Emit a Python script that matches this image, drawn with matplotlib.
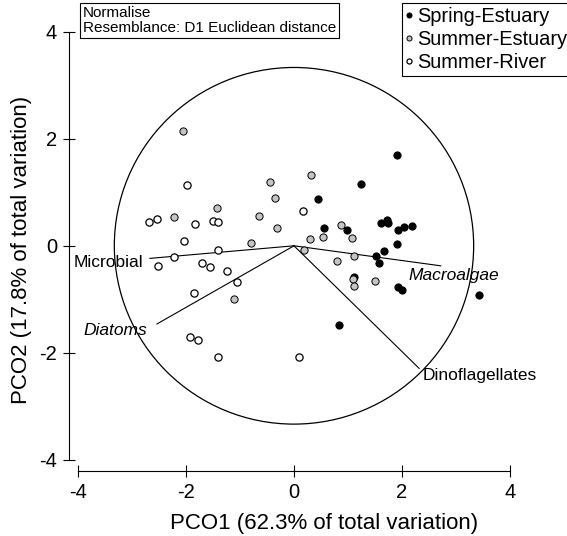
import numpy as np
import matplotlib
matplotlib.use('Agg')
import matplotlib.pyplot as plt
from matplotlib.patches import Circle

plt.rcParams['font.family'] = 'Liberation Sans'
plt.rcParams['axes.unicode_minus'] = False

# PCO scores
spring_est_x = [0.45, 0.56, 0.99, 1.25, 1.91, 1.62, 1.72, 1.74, 1.93, 2.04,
                2.19, 1.91, 1.67, 1.52, 1.57, 1.12, 1.93, 2.01, 3.43, 0.84]
spring_est_y = [0.87, 0.34, 0.30, 1.16, 1.70, 0.42, 0.48, 0.42, 0.29, 0.36,
                0.37, 0.03, -0.10, -0.19, -0.32, -0.58, -0.77, -0.83, -0.91, -1.48]

summer_est_x = [-2.06, -0.44, -0.36, -1.43, -2.23, -0.64, -0.31, -0.80, -1.11, 0.31,
                0.88, 0.53, 0.29, 1.07, 0.19, 1.11, 0.79, 1.10, 1.12, 1.51]
summer_est_y = [2.14, 1.19, 0.89, 0.70, 0.54, 0.56, 0.33, 0.06, -1.00, 1.33,
                0.38, 0.17, 0.13, 0.14, -0.07, -0.19, -0.28, -0.62, -0.75, -0.65]

summer_riv_x = [-1.99, -2.69, -2.53, -1.83, -1.51, -1.41, -2.04, -1.41, -2.22, -2.52,
                -1.70, -1.56, -1.25, -1.05, -1.86, -1.93, -1.77, -1.41, 0.09, 0.17]
summer_riv_y = [1.13, 0.44, 0.50, 0.41, 0.47, 0.44, 0.09, -0.07, -0.20, -0.37,
                -0.33, -0.40, -0.47, -0.67, -0.88, -1.70, -1.75, -2.07, -2.07, 0.65]

# vector overlay
vec_names = ['Microbial', 'Diatoms', 'Macroalgae', 'Dinoflagellates']
vec_x = [-2.67, -2.54, 2.72, 2.32]
vec_y = [-0.235, -1.46, -0.374, -2.29]
circle_r = 3.33

fig = plt.figure(figsize=(5.67, 5.36), dpi=100)
ax = fig.add_axes([69/567, 1-470.7/536, 498/567, 470.7/536])
ax.set_xlim(-4.17, 5.06)
ax.set_ylim(-4.2, 4.59)

# circle + vectors
ax.add_patch(Circle((0, 0), circle_r, fill=False, ec='black', lw=0.9))
label_off = [(-5, -2.7, 'right', 'normal'), (-6.8, -4.5, 'right', 'italic'),
             (-23.3, -6.7, 'left', 'italic'), (2.2, -4.8, 'left', 'normal')]
for name, vx, vy, (dx, dy, ha, st) in zip(vec_names, vec_x, vec_y, label_off):
    ax.plot([0, vx], [0, vy], color='black', lw=0.8)
    ax.annotate(name, (vx, vy), xytext=(dx, dy), textcoords='offset points',
                ha=ha, va='center', fontsize=12.5, style=st)

ms = 5.2
ax.plot(spring_est_x, spring_est_y, 'o', ms=ms, mfc='black', mec='black', mew=0.7,
        label='Spring-Estuary')
ax.plot(summer_est_x, summer_est_y, 'o', ms=ms, mfc='#c4c4c4', mec='black', mew=0.7,
        label='Summer-Estuary')
ax.plot(summer_riv_x, summer_riv_y, 'o', ms=ms, mfc='white', mec='black', mew=0.9,
        label='Summer-River')

# axes styling, PRIMER look
for s in ['top', 'right']:
    ax.spines[s].set_visible(False)
ax.spines['left'].set_bounds(-4, 4)
ax.spines['bottom'].set_bounds(-4, 4)
ax.set_xticks([-4, -2, 0, 2, 4])
ax.set_yticks([-4, -2, 0, 2, 4])
ax.tick_params(direction='inout', length=9, width=0.8, labelsize=14.5, pad=4)

ax.set_xlabel('PCO1 (62.3% of total variation)', fontsize=16, va='center')
ax.xaxis.set_label_coords(0.512, -0.112)
ax.set_ylabel('PCO2 (17.8% of total variation)', fontsize=16, va='center')
ax.yaxis.set_label_coords(-0.096, 0.469)

fig.text(83/567, 1-6/536, 'Normalise\nResemblance: D1 Euclidean distance',
         ha='left', va='top', fontsize=11, linespacing=1.08,
         bbox=dict(boxstyle='square,pad=0.2', fc='white', ec='black', lw=0.8))

leg = ax.legend(loc='upper left', bbox_to_anchor=(401.7/567, 1-3/536),
                bbox_transform=fig.transFigure, fontsize=14.4, markerscale=0.7,
                handlelength=0.35, handletextpad=0.2, labelspacing=0.2,
                borderpad=0.2, borderaxespad=0, fancybox=False, framealpha=1)
leg.get_frame().set_edgecolor('black')
leg.get_frame().set_linewidth(0.8)

fig.savefig('out.png', dpi=100)
